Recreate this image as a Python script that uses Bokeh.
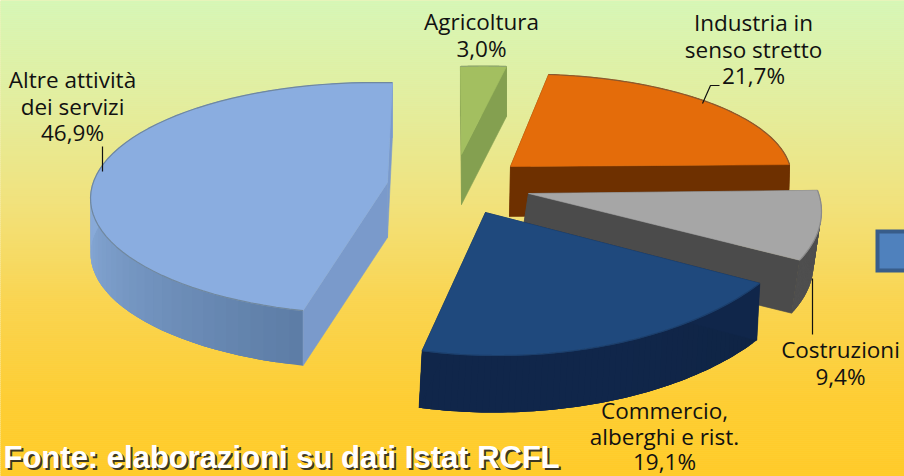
import numpy as np
from bokeh.plotting import figure
from bokeh.models import Range1d
from bokeh.core.properties import value
from bokeh.embed import file_html
from bokeh.resources import INLINE

# ---- data ----
categories = ["Agricoltura", "Industria in senso stretto", "Costruzioni",
              "Commercio, alberghi e rist.", "Altre attività dei servizi"]
shares = [3.0, 21.7, 9.4, 19.1, 46.9]
label_lines = [["Agricoltura", "3,0%"],
               ["Industria in", "senso stretto", "21,7%"],
               ["Costruzioni", "9,4%"],
               ["Commercio,", "alberghi e rist.", "19,1%"],
               ["Altre attività", "dei servizi", "46,9%"]]
source_note = "Fonte: elaborazioni su dati Istat RCFL"

# ---- layout & style of each slice (perspective of the exploded 3D pie) ----
geom = [
    dict(ox=483, oy=175.5, rx=245, ry=110, ax=461, ay=154, phi=-5.4, dx=0, dy=50),
    dict(ox=525, oy=176.6, rx=266, ry=103, ax=510, ay=166, phi=-5.8, dx=-1, dy=50),
    dict(ox=563, oy=211, rx=258, ry=121, ax=528, ay=193, phi=-8.9, dx=-8, dy=53),
    dict(ox=497, oy=186, rx=320, ry=169, ax=485, ay=212, phi=2.3, dx=-3, dy=57),
    dict(ox=375, oy=198, rx=285, ry=116, ax=387, ay=182, phi=3.4, dx=0, dy=55),
]
top_col = ["#a3bf60", "#e46c0a", "#a6a6a6", "#1f497d", "#8aade0"]
cut_col = ["#84a050", "#6e3000", "#4b4b4b", "#10264a", "#7a9acb"]
arc_col = [("#84a050", "#84a050"), ("#6e3000", "#6e3000"), ("#4b4b4b", "#4f4f4f"),
           ("#0f2444", "#10264a"), ("#5d7da6", "#88aad8")]
edge_col = ["#8fa770", "#8a5a30", "#8a8a8a", "#1c3f6c", "#70889f"]
label_pos = [(481, 21), (753, 22), (840, 349), (664, 410), (72, 79)]
label_step = [26.6, 26.6, 26.6, 25.5, 26.6]
leaders = [([702, 710, 719], [103, 85, 85]), ([812, 812], [278, 334]), ([102, 102], [146, 171])]
bg_stops = [(0, "#d6f7b8"), (100, "#e2eea0"), (200, "#f1e27d"), (300, "#fad450"), (400, "#fecd32"), (476, "#ffcb28")]


def rgb(h):
    return np.array([int(h[i:i + 2], 16) for i in (1, 3, 5)], float)


def mix(a, b, t):
    c = rgb(a) * (1 - t) + rgb(b) * t
    return "#%02x%02x%02x" % tuple(int(round(v)) for v in c)


W, H = 904, 476
p = figure(width=W, height=H, x_range=Range1d(0, W), y_range=Range1d(H, 0),
           output_backend="svg", toolbar_location=None, x_axis_type=None, y_axis_type=None,
           min_border=0, outline_line_color=None, margin=(0, 0, 0, 0),
           background_fill_color="#f1e27d", border_fill_color="#f1e27d")
p.grid.visible = False

# background gradient
ys = np.arange(0, H, 2)
pos = [s[0] for s in bg_stops]
cols = []
for y in ys:
    j = min(np.searchsorted(pos, y, side="right") - 1, len(pos) - 2)
    cols.append(mix(bg_stops[j][1], bg_stops[j + 1][1], (y - pos[j]) / (pos[j + 1] - pos[j])))
tops = ys.astype(float)
tops[0] = -5
p.quad(left=-5, right=W + 5, top=tops, bottom=ys + 2, fill_color=cols, line_color=cols, line_width=0.5)

# slices
sweeps = np.array(shares) / sum(shares) * 360
starts = np.concatenate([[0], np.cumsum(sweeps)[:-1]])


def slice_pts(i):
    g = geom[i]
    th = np.radians(np.linspace(starts[i], starts[i] + sweeps[i], 61) + g["phi"])
    return g["ox"] + g["rx"] * np.sin(th), g["oy"] - g["ry"] * np.cos(th)


for i in [4, 0, 1, 2, 3]:
    g = geom[i]
    ax_, ay_ = slice_pts(i)
    dx, dy = g["dx"], g["dy"]
    sx, sy, sc = [], [], []
    # extruded rim, shaded along the arc; each piece overlaps the next so no seams show
    a, b = arc_col[i]
    n = len(ax_)
    for k in range(n - 1):
        e = min(k + 3, n - 1)
        sx.append([ax_[k], *ax_[k + 1:e + 1], *(ax_[k + 1:e + 1][::-1] + dx), ax_[k] + dx])
        sy.append([ay_[k], *ay_[k + 1:e + 1], *(ay_[k + 1:e + 1][::-1] + dy), ay_[k] + dy])
        sc.append(mix(a, b, min(1.0, k / (0.45 * n))))
    p.patches(xs=sx, ys=sy, fill_color=sc, line_color=None)
    # extruded radii
    rx_, ry_, rc_ = [], [], []
    for ex, ey in ((ax_[0], ay_[0]), (ax_[-1], ay_[-1])):
        rx_.append([g["ax"], ex, ex + dx, g["ax"] + dx])
        ry_.append([g["ay"], ey, ey + dy, g["ay"] + dy])
        rc_.append(cut_col[i])
    p.patches(xs=rx_, ys=ry_, fill_color=rc_, line_color=rc_, line_width=0.6)
    # top face
    tx = [g["ax"]] + list(ax_)
    ty = [g["ay"]] + list(ay_)
    p.patch(tx, ty, fill_color=top_col[i], line_color=top_col[i], line_width=0.6)
    p.line(ax_, ay_, line_color=edge_col[i], line_width=1.2)

# legend key cut by the right edge
p.quad(left=[877], right=[910], top=[231], bottom=[270], fill_color="#4f81bd",
       line_color="#385d8a", line_width=4, line_join="miter")

# leaders
for lx, ly in leaders:
    p.line(lx, ly, line_color="#111111", line_width=1.2)

# labels
tx, ty, tt = [], [], []
for (cx, cy), step, lines in zip(label_pos, label_step, label_lines):
    for k, t in enumerate(lines):
        tx.append(cx)
        ty.append(cy + k * step)
        tt.append(t)
p.text(tx, ty, text=tt, text_font=value("Open Sans"), text_font_size="22.5px",
       text_align="center", text_baseline="middle", text_color="#111111")

# source note with shadow
for col, off, alpha in (("#222222", 2, 0.9), ("#ffffff", 0, 1.0)):
    p.text([3], [457], text=[source_note], text_font=value("Liberation Sans"), text_font_size="31px",
           text_font_style="bold", text_color=col, text_alpha=alpha, text_baseline="alphabetic",
           x_offset=[off], y_offset=[off])

open("out.html", "w").write(file_html(p, INLINE))
